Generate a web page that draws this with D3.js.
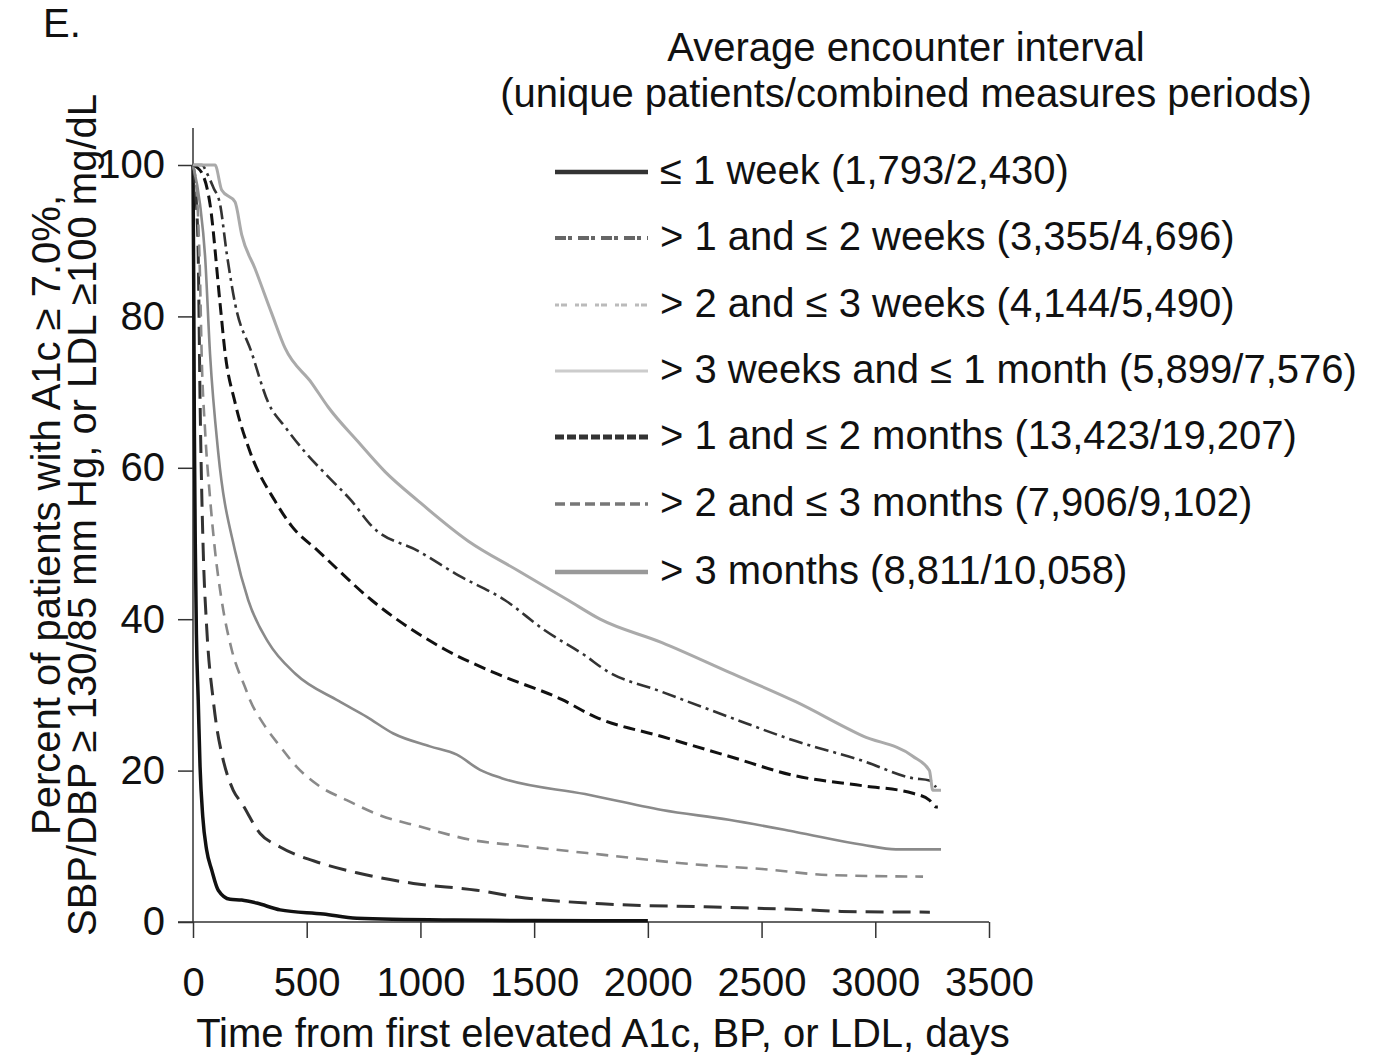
<!DOCTYPE html>
<html>
<head>
<meta charset="utf-8">
<script src="https://cdn.jsdelivr.net/npm/d3@7"></script>
<style>
  html, body { margin: 0; padding: 0; background: #fff; }
  svg { display: block; }
  text { font-family: "Liberation Sans", Arial, sans-serif; fill: #111; }
</style>
</head>
<body>
<svg id="chart" width="1374" height="1057"></svg>
<script>
// ---------------- data ----------------
const seriesLabels = [
  "\u2264 1 week (1,793/2,430)",
  "> 1 and \u2264 2 weeks (3,355/4,696)",
  "> 2 and \u2264 3 weeks (4,144/5,490)",
  "> 3 weeks and \u2264 1 month (5,899/7,576)",
  "> 1 and \u2264 2 months (13,423/19,207)",
  "> 2 and \u2264 3 months (7,906/9,102)",
  "> 3 months (8,811/10,058)"
];

const week1Days = [0, 3, 6, 10, 15, 23, 31, 43, 60, 82, 111, 163, 214, 280, 383, 573, 720, 1145, 1500, 2000];
const week1Vals = [100, 85, 65, 50, 38, 29.3, 20.5, 13.9, 9.5, 6.9, 4.2, 3.0, 2.9, 2.5, 1.6, 1.06, 0.5, 0.26, 0.2, 0.15];

const week2Days = [0, 8, 15, 23, 31, 45, 60, 89, 104, 126, 177, 214, 295, 383, 559, 720, 969, 1247, 1429, 1797, 2250, 2700, 2850, 3240];
const week2Vals = [100, 98, 95, 88, 69, 49, 39, 29.3, 25.8, 22.3, 17.4, 15.7, 11.7, 9.9, 7.8, 6.5, 5.1, 4.2, 3.3, 2.4, 2.0, 1.6, 1.4, 1.3];

const week3Days = [0, 15, 31, 38, 53, 75, 97, 126, 170, 229, 251, 309, 383, 456, 558, 676, 822, 998, 1232, 1430, 1797, 2209, 2502, 2797, 3210];
const week3Vals = [100, 97, 85, 75, 65, 56, 49, 42.5, 36, 31, 29.3, 26.2, 23.2, 20.5, 17.9, 16.1, 14.1, 12.6, 10.8, 10.1, 8.9, 7.6, 7.0, 6.2, 6.0];

const month1Days = [0, 31, 53, 75, 111, 185, 243, 330, 450, 640, 764, 881, 1042, 1160, 1262, 1357, 1724, 2062, 2356, 2650, 2944, 3091, 3289];
const month1Vals = [100, 94.8, 88, 75, 62, 49, 42.5, 37, 32.8, 29.2, 27.1, 24.9, 23.2, 22.1, 20.1, 19, 16.9, 14.8, 13.5, 11.9, 10.2, 9.6, 9.6];

const month2Days = [0, 38, 75, 119, 141, 185, 251, 361, 434, 551, 786, 1108, 1343, 1621, 1768, 2062, 2356, 2650, 2944, 3165, 3238, 3267, 3275];
const month2Vals = [100, 99, 94.8, 81.7, 75.2, 68.6, 62.1, 55.6, 52.3, 49, 42.5, 36, 32.7, 29.4, 27.1, 24.5, 21.9, 19.3, 18, 17, 16.1, 15.2, 15.2];

const month3Days = [0, 40, 60, 90, 119, 148, 185, 258, 331, 405, 492, 595, 698, 786, 991, 1167, 1372, 1548, 1724, 1812, 2062, 2356, 2650, 2944, 3165, 3238, 3267];
const month3Vals = [100, 100, 99, 97, 94.8, 88.4, 81.7, 75.2, 68.6, 65.4, 62.1, 58.8, 55.6, 52.3, 49, 45.8, 42.5, 38.5, 35.2, 33.3, 30.4, 27.1, 23.9, 21.3, 19.0, 18.7, 17.8];

const over3Days = [0, 97, 126, 185, 214, 273, 346, 405, 522, 595, 727, 844, 991, 1211, 1430, 1650, 1790, 2062, 2356, 2650, 2944, 3165, 3238, 3253, 3289];
const over3Vals = [100, 100, 96.7, 95.1, 90.8, 86.3, 80.4, 75.8, 71.2, 68, 63.4, 59.5, 55.6, 50.3, 46.4, 42.5, 40, 36.9, 33, 29.1, 24.6, 21.9, 20, 17.4, 17.4];

const xTicks = [0, 500, 1000, 1500, 2000, 2500, 3000, 3500];
const yTicks = [0, 20, 40, 60, 80, 100];

const panelLabel = "E.";
const legendTitle = ["Average encounter interval", "(unique patients/combined measures periods)"];
const xTitle = "Time from first elevated A1c, BP, or LDL, days";
const yTitle = ["Percent of patients with A1c \u2265 7.0%,", "SBP/DBP \u2265 130/85 mm Hg, or LDL \u2265100 mg/dL"];

// ---------------- styles ----------------
const curveStyles = [
  { color: "#111", width: 3.5, dash: null },
  { color: "#333", width: 3, dash: "18 9" },
  { color: "#8a8a8a", width: 2.6, dash: "12 8" },
  { color: "#8a8a8a", width: 2.6, dash: null },
  { color: "#111", width: 3, dash: "12 6" },
  { color: "#333", width: 2.6, dash: "14 5 3 5" },
  { color: "#aaa", width: 3, dash: null }
];
const legendStyles = [
  { color: "#333", width: 4.5, dash: null },
  { color: "#666", width: 4, dash: "11 2 4 6" },
  { color: "#bbb", width: 3, dash: "4 2 6 8" },
  { color: "#ccc", width: 3, dash: null },
  { color: "#333", width: 5, dash: "9 3" },
  { color: "#777", width: 3.5, dash: "10 5" },
  { color: "#999", width: 4.5, dash: null }
];

// ---------------- build ----------------
const seriesData = [
  [week1Days, week1Vals], [week2Days, week2Vals], [week3Days, week3Vals],
  [month1Days, month1Vals], [month2Days, month2Vals], [month3Days, month3Vals],
  [over3Days, over3Vals]
].map(([ds, vs]) => ds.map((d, i) => ({ d, v: vs[i] })));

const svg = d3.select("#chart");
const x = d3.scaleLinear().domain([0, 3500]).range([193, 989]);
const y = d3.scaleLinear().domain([0, 100]).range([922, 165]);
const FS = 40;

// axes
const xAxis = d3.axisBottom(x).tickValues(xTicks).tickFormat(d3.format("d"))
  .tickSize(16).tickPadding(30).tickSizeOuter(0);
const gx = svg.append("g").attr("transform", "translate(0,922)").call(xAxis);
gx.select(".domain").remove();
gx.selectAll("line").attr("stroke", "#333").attr("stroke-width", 1.5);
gx.selectAll("text").attr("font-size", FS).attr("font-family", "Liberation Sans, Arial, sans-serif").attr("fill", "#111");

const yAxis = d3.axisLeft(y).tickValues(yTicks).tickFormat(d3.format("d"))
  .tickSize(15).tickPadding(13).tickSizeOuter(0);
const gy = svg.append("g").attr("transform", "translate(193,0)").call(yAxis);
gy.select(".domain").remove();
gy.selectAll("line").attr("stroke", "#333").attr("stroke-width", 1.5);
gy.selectAll("text").attr("font-size", FS).attr("font-family", "Liberation Sans, Arial, sans-serif").attr("fill", "#111");

svg.append("line").attr("x1", x(0)).attr("x2", x(0)).attr("y1", 128).attr("y2", y(0))
  .attr("stroke", "#333").attr("stroke-width", 1.5);
svg.append("line").attr("x1", x(0) - 15).attr("x2", x(3500)).attr("y1", y(0)).attr("y2", y(0))
  .attr("stroke", "#333").attr("stroke-width", 1.5);

// curves
const line = d3.line().x(p => x(p.d)).y(p => y(p.v)).curve(d3.curveMonotoneX);
seriesData.forEach((pts, i) => {
  const st = curveStyles[i];
  svg.append("path").datum(pts)
    .attr("d", line)
    .attr("fill", "none")
    .attr("stroke", st.color)
    .attr("stroke-width", st.width)
    .attr("stroke-dasharray", st.dash)
    .attr("stroke-linejoin", "round");
});

// legend
const legendRowsY = [172, 238, 305, 371, 437, 504, 572];
const leg = svg.append("g");
seriesLabels.forEach((lab, i) => {
  const st = legendStyles[i];
  leg.append("line").attr("x1", 555).attr("x2", 648)
    .attr("y1", legendRowsY[i]).attr("y2", legendRowsY[i])
    .attr("stroke", st.color).attr("stroke-width", st.width)
    .attr("stroke-dasharray", st.dash);
  leg.append("text").attr("x", 660).attr("y", legendRowsY[i] - 2)
    .attr("dominant-baseline", "central").attr("font-size", FS).text(lab);
});
legendTitle.forEach((t, i) => {
  svg.append("text").attr("x", 906).attr("y", 47 + i * 46)
    .attr("text-anchor", "middle").attr("dominant-baseline", "central")
    .attr("font-size", FS).text(t);
});

// titles
svg.append("text").attr("x", 603).attr("y", 1033)
  .attr("text-anchor", "middle").attr("dominant-baseline", "central")
  .attr("font-size", FS).text(xTitle);

yTitle.forEach((t, i) => {
  svg.append("text")
    .attr("transform", `translate(${46 + i * 36},515) rotate(-90)`)
    .attr("text-anchor", "middle").attr("dominant-baseline", "central")
    .attr("font-size", FS).text(t);
});

svg.append("text").attr("x", 43).attr("y", 37).attr("font-size", FS).text(panelLabel);
</script>
</body>
</html>
